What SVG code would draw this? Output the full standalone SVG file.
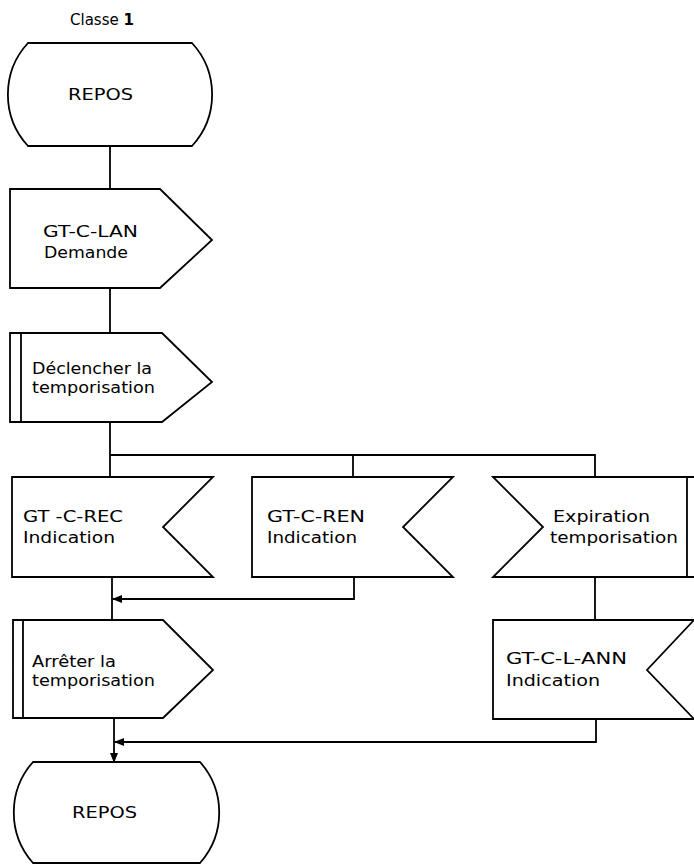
<svg xmlns="http://www.w3.org/2000/svg" width="694" height="866" viewBox="0 0 694 866">
<style>
.s{fill:#fff;stroke:#000;stroke-width:1.8;stroke-linejoin:miter}
.l{fill:none;stroke:#000;stroke-width:1.8}
text{font-family:"DejaVu Sans","Liberation Sans",sans-serif;font-size:16px;fill:#000}
</style>
<defs>
<marker id="ah" markerWidth="10" markerHeight="8" refX="9" refY="4" orient="auto" markerUnits="userSpaceOnUse">
<path d="M0,0 L10,4 L0,8 Z" fill="#000"/>
</marker>
</defs>
<rect width="694" height="866" fill="#fff"/>
<text x="70" y="25" style="font-size:15px">Classe <tspan font-weight="bold">1</tspan></text>
<g id="connectors">
<path class="l" d="M110,146 V189"/>
<path class="l" d="M110,288 V333"/>
<path class="l" d="M110,422 V477"/>
<path class="l" d="M110,455 H595 V477"/>
<path class="l" d="M353,455 V477"/>
<path class="l" d="M112,577 V620"/>
<path class="l" d="M354,577 V599 H113" marker-end="url(#ah)"/>
<path class="l" d="M595,577 V620"/>
<path class="l" d="M114,718 V762" marker-end="url(#ah)"/>
<path class="l" d="M596,719 V742 H115" marker-end="url(#ah)"/>
</g>
<g id="repos1">
<path class="s" d="M28,43 H192 A76 76 0 0 1 192,146 H28 A76 76 0 0 1 28,43 Z"/>
<text x="68" y="100" textLength="65" lengthAdjust="spacingAndGlyphs">REPOS</text>
</g>
<g id="lan-demande">
<path class="s" d="M10,189 H160 L212,240 L160,288 H10 Z"/>
<text x="43" y="237" textLength="95" lengthAdjust="spacingAndGlyphs">GT-C-LAN</text>
<text x="44" y="258" textLength="84" lengthAdjust="spacingAndGlyphs">Demande</text>
</g>
<g id="declencher">
<path class="s" d="M10,333 H162 L212,382 L162,422 H10 Z"/>
<path class="l" d="M21,333 V422"/>
<text x="32" y="374" textLength="120" lengthAdjust="spacingAndGlyphs">Déclencher la</text>
<text x="32" y="393" textLength="123" lengthAdjust="spacingAndGlyphs">temporisation</text>
</g>
<g id="rec-indication">
<path class="s" d="M12,477 H213 L163,527 L213,577 H12 Z"/>
<text x="23" y="522" textLength="100" lengthAdjust="spacingAndGlyphs">GT -C-REC</text>
<text x="23" y="543" textLength="92" lengthAdjust="spacingAndGlyphs">Indication</text>
</g>
<g id="ren-indication">
<path class="s" d="M252,477 H453 L403,527 L453,577 H252 Z"/>
<text x="267" y="522" textLength="98" lengthAdjust="spacingAndGlyphs">GT-C-REN</text>
<text x="267" y="543" textLength="90" lengthAdjust="spacingAndGlyphs">Indication</text>
</g>
<g id="expiration">
<path class="s" d="M493,477 H696 V577 H493 L543,527 Z"/>
<path class="l" d="M687,477 V577"/>
<text x="553" y="522" textLength="97" lengthAdjust="spacingAndGlyphs">Expiration</text>
<text x="550" y="543" textLength="128" lengthAdjust="spacingAndGlyphs">temporisation</text>
</g>
<g id="ann-indication">
<path class="s" d="M493,620 H694 L647,670 L694,719 H493 Z"/>
<text x="506" y="664" textLength="121" lengthAdjust="spacingAndGlyphs">GT-C-L-ANN</text>
<text x="506" y="686" textLength="94" lengthAdjust="spacingAndGlyphs">Indication</text>
</g>
<g id="arreter">
<path class="s" d="M13,620 H163 L213,670 L163,718 H13 Z"/>
<path class="l" d="M23,620 V718"/>
<text x="32" y="667" textLength="84" lengthAdjust="spacingAndGlyphs">Arrêter la</text>
<text x="32" y="686" textLength="123" lengthAdjust="spacingAndGlyphs">temporisation</text>
</g>
<g id="repos2">
<path class="s" d="M33,762 H200 A76 76 0 0 1 200,863 H33 A76 76 0 0 1 33,762 Z"/>
<text x="72" y="818" textLength="65" lengthAdjust="spacingAndGlyphs">REPOS</text>
</g>
</svg>
